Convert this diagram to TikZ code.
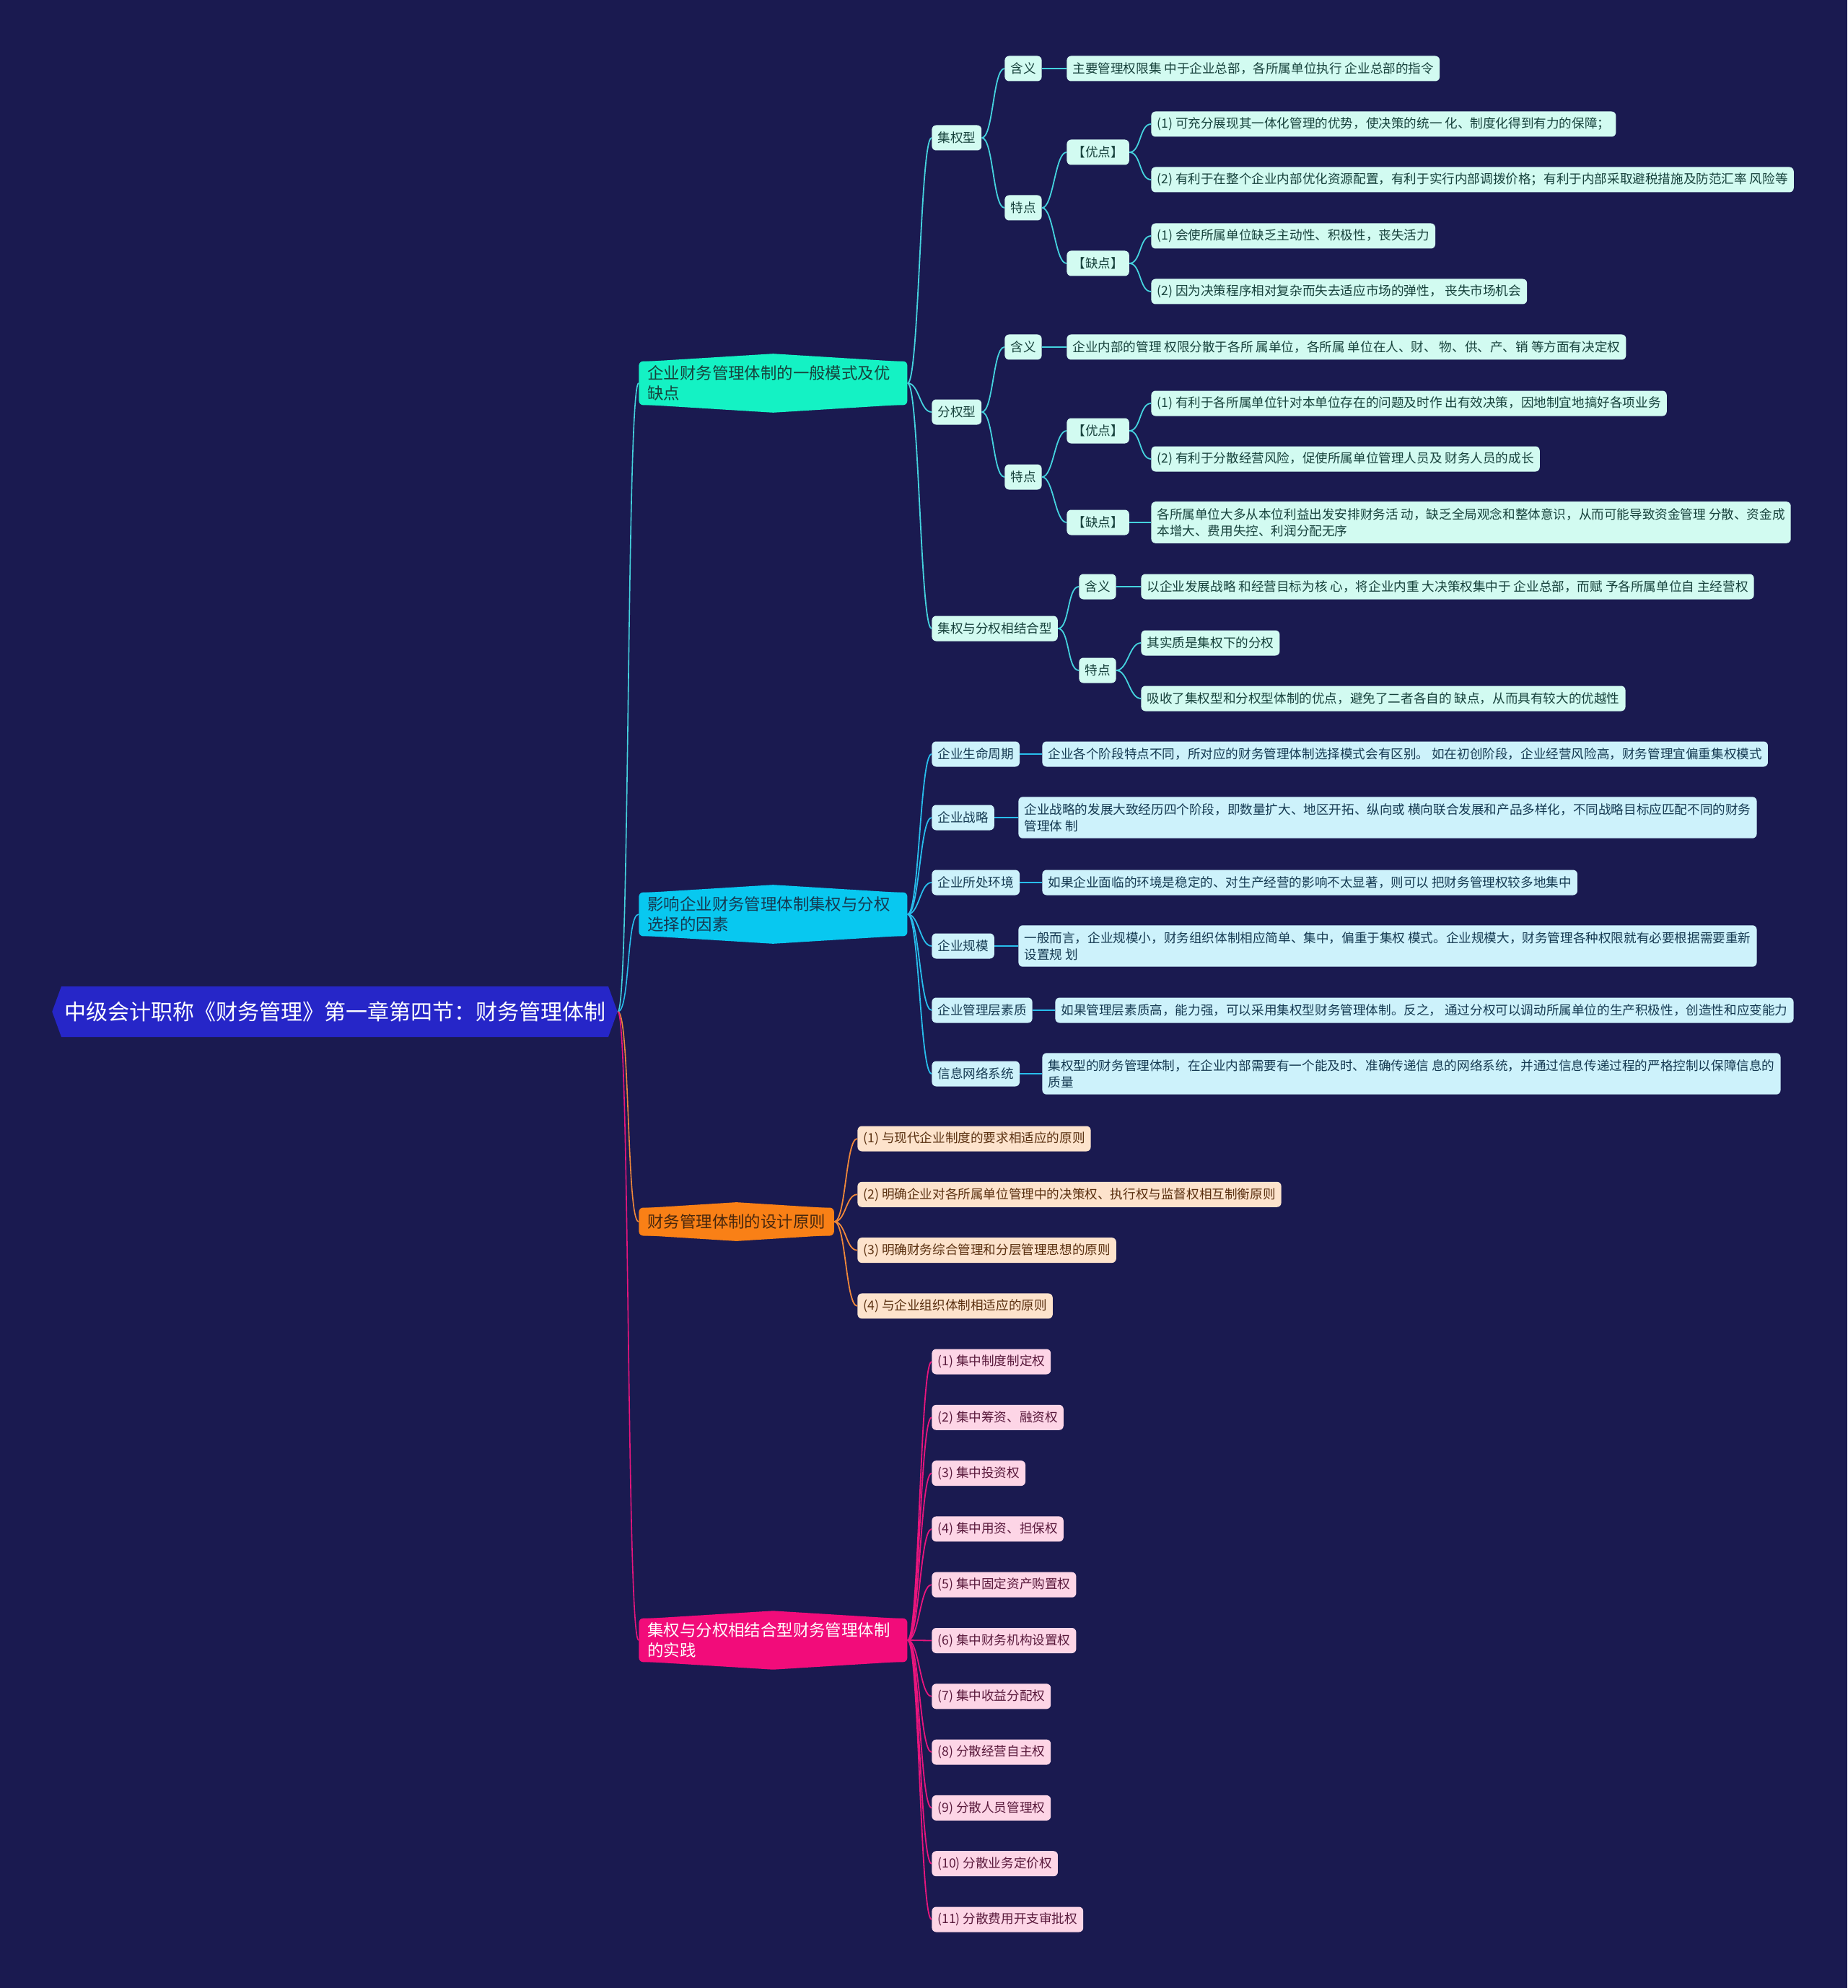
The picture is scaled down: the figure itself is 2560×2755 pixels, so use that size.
\documentclass[tikz,border=0pt]{standalone}
\usepackage{fontspec}
\setmainfont{Noto Sans CJK SC}
\usetikzlibrary{positioning, shapes.symbols}

\definecolor{bgnavy}{HTML}{1A1A50}
\definecolor{rootblue}{HTML}{2626C8}
\definecolor{topA}{HTML}{14F2C4}
\definecolor{topB}{HTML}{08C8F0}
\definecolor{topC}{HTML}{F98016}
\definecolor{topD}{HTML}{F20C7A}
\definecolor{fillA}{HTML}{D2FBF1}
\definecolor{fillB}{HTML}{CDF2FB}
\definecolor{fillC}{HTML}{FDE3CC}
\definecolor{fillD}{HTML}{FDD5E6}
\definecolor{lineA}{HTML}{45D3DE}
\definecolor{lineB}{HTML}{28BEEC}
\definecolor{lineC}{HTML}{F0883A}
\definecolor{lineD}{HTML}{E8157D}
\definecolor{inkA}{HTML}{17423C}
\definecolor{inkB}{HTML}{153A52}
\definecolor{inkC}{HTML}{5A3010}
\definecolor{inkD}{HTML}{5A1A3C}

\tikzset{
  rootbox/.style={signal, signal to=west and east, signal pointer angle=140,
    fill=rootblue, text=white, font=\fontsize{15pt}{18pt}\selectfont,
    minimum height=35pt, inner xsep=2pt},
  topic/.style={rounded corners=3pt, anchor=west, align=left, inner xsep=6pt,
    inner ysep=3pt, minimum height=19.5pt, font=\fontsize{11.2pt}{14pt}\selectfont},
  leaf/.style={rounded corners=3pt, anchor=west, align=left, inner xsep=4pt,
    inner ysep=3pt, minimum height=17.5pt},
  leaf2/.style={inner ysep=4.5pt},
  leafA/.style={leaf, fill=fillA, text=inkA},
  leafB/.style={leaf, fill=fillB, text=inkB},
  leafC/.style={leaf, fill=fillC, text=inkC},
  leafD/.style={leaf, fill=fillD, text=inkD},
  linkA/.style={draw=lineA, line width=0.9pt},
  linkB/.style={draw=lineB, line width=0.9pt},
  linkC/.style={draw=lineC, line width=0.9pt},
  linkD/.style={draw=lineD, line width=0.9pt},
  barA/.style={draw=lineA, line width=1.4pt},
  barB/.style={draw=lineB, line width=1.4pt},
}

\begin{document}
\begin{tikzpicture}[x=0.5pt, y=-0.5pt, font=\fontsize{8.8pt}{11.5pt}\selectfont]
  \fill[bgnavy] (0,0) rectangle (2560,2755);
  \useasboundingbox (0,0) rectangle (2560,2755);

  % root and main topics
  \node[rootbox] (root) at (464,1402) {中级会计职称《财务管理》第一章第四节：财务管理体制};
  \node[topic, text width=174pt, fill=topA, text=inkA] (ta) at (885,531) {企业财务管理体制的一般模式及优\\缺点};
  \node[topic, text width=174pt, fill=topB, text=inkB] (tb) at (885,1267) {影响企业财务管理体制集权与分权\\选择的因素};
  \node[topic, fill=topC, text=inkC!80!black] (tc) at (885,1693) {财务管理体制的设计原则};
  \node[topic, text width=174pt, fill=topD, text=white] (td) at (885,2273) {集权与分权相结合型财务管理体制\\的实践};
  \foreach \n/\col/\pk in {ta/topA/5pt, tb/topB/5pt, tc/topC/3.5pt, td/topD/5pt} {
    \fill[\col] ([xshift=4pt,yshift=-0.5pt]\n.north west) -- ([yshift=\pk]\n.north) -- ([xshift=-4pt,yshift=-0.5pt]\n.north east) -- cycle;
    \fill[\col] ([xshift=4pt,yshift=0.5pt]\n.south west) -- ([yshift=-\pk]\n.south) -- ([xshift=-4pt,yshift=0.5pt]\n.south east) -- cycle;
  }

  % 集权型
  \node[leafA] (a1) at (1291,191) {集权型};
  \node[leafA] (a1m) at (1392,95) {含义};
  \node[leafA] (a1mt) at (1478,95) {主要管理权限集 中于企业总部，各所属单位执行 企业总部的指令};
  \node[leafA] (a1t) at (1392,288) {特点};
  \node[leafA] (a1p) at (1478,211) {【优点】};
  \node[leafA] (a1n) at (1478,365) {【缺点】};
  \node[leafA] (a1p1) at (1595,172) {(1) 可充分展现其一体化管理的优势，使决策的统一 化、制度化得到有力的保障；};
  \node[leafA] (a1p2) at (1595,249) {(2) 有利于在整个企业内部优化资源配置，有利于实行内部调拨价格；有利于内部采取避税措施及防范汇率 风险等};
  \node[leafA] (a1n1) at (1595,327) {(1) 会使所属单位缺乏主动性、积极性，丧失活力};
  \node[leafA] (a1n2) at (1595,404) {(2) 因为决策程序相对复杂而失去适应市场的弹性， 丧失市场机会};

  % 分权型
  \node[leafA] (a2) at (1291,571) {分权型};
  \node[leafA] (a2m) at (1392,481) {含义};
  \node[leafA] (a2mt) at (1478,481) {企业内部的管理 权限分散于各所 属单位，各所属 单位在人、财、 物、供、产、销 等方面有决定权};
  \node[leafA] (a2t) at (1392,661) {特点};
  \node[leafA] (a2p) at (1478,597) {【优点】};
  \node[leafA] (a2n) at (1478,724) {【缺点】};
  \node[leafA] (a2p1) at (1595,559) {(1) 有利于各所属单位针对本单位存在的问题及时作 出有效决策，因地制宜地搞好各项业务};
  \node[leafA] (a2p2) at (1595,636) {(2) 有利于分散经营风险，促使所属单位管理人员及 财务人员的成长};
  \node[leafA, leaf2] (a2n1) at (1595,724) {各所属单位大多从本位利益出发安排财务活 动，缺乏全局观念和整体意识，从而可能导致资金管理 分散、资金成\\本增大、费用失控、利润分配无序};

  % 集权与分权相结合型
  \node[leafA] (a3) at (1291,871) {集权与分权相结合型};
  \node[leafA] (a3m) at (1495,813) {含义};
  \node[leafA] (a3mt) at (1581,813) {以企业发展战略 和经营目标为核 心，将企业内重 大决策权集中于 企业总部，而赋 予各所属单位自 主经营权};
  \node[leafA] (a3t) at (1495,929) {特点};
  \node[leafA] (a3t1) at (1581,891) {其实质是集权下的分权};
  \node[leafA] (a3t2) at (1581,968) {吸收了集权型和分权型体制的优点，避免了二者各自的 缺点，从而具有较大的优越性};

  % 影响因素
  \node[leafB] (b1) at (1291,1045) {企业生命周期};
  \node[leafB] (b1t) at (1444,1045) {企业各个阶段特点不同，所对应的财务管理体制选择模式会有区别。 如在初创阶段，企业经营风险高，财务管理宜偏重集权模式};
  \node[leafB] (b2) at (1291,1133) {企业战略};
  \node[leafB, leaf2] (b2t) at (1411,1133) {企业战略的发展大致经历四个阶段，即数量扩大、地区开拓、纵向或 横向联合发展和产品多样化，不同战略目标应匹配不同的财务\\管理体 制};
  \node[leafB] (b3) at (1291,1223) {企业所处环境};
  \node[leafB] (b3t) at (1444,1223) {如果企业面临的环境是稳定的、对生产经营的影响不太显著，则可以 把财务管理权较多地集中};
  \node[leafB] (b4) at (1291,1311) {企业规模};
  \node[leafB, leaf2] (b4t) at (1411,1311) {一般而言，企业规模小，财务组织体制相应简单、集中，偏重于集权 模式。企业规模大，财务管理各种权限就有必要根据需要重新\\设置规 划};
  \node[leafB] (b5) at (1291,1400) {企业管理层素质};
  \node[leafB] (b5t) at (1462,1400) {如果管理层素质高，能力强，可以采用集权型财务管理体制。反之， 通过分权可以调动所属单位的生产积极性，创造性和应变能力};
  \node[leafB] (b6) at (1291,1488) {信息网络系统};
  \node[leafB, leaf2] (b6t) at (1444,1488) {集权型的财务管理体制，在企业内部需要有一个能及时、准确传递信 息的网络系统，并通过信息传递过程的严格控制以保障信息的\\质量};

  % 设计原则
  \foreach \txt [count=\i] in {{(1) 与现代企业制度的要求相适应的原则},
      {(2) 明确企业对各所属单位管理中的决策权、执行权与监督权相互制衡原则},
      {(3) 明确财务综合管理和分层管理思想的原则},
      {(4) 与企业组织体制相适应的原则}} {
    \node[leafC] (c\i) at (1188,{1578+77.3*(\i-1)}) {\txt};
    \draw[linkC] (tc.east) .. controls +(16,0) and +(-16,0) .. (c\i.west);
  }

  % 实践
  \foreach \txt [count=\i] in {{(1) 集中制度制定权}, {(2) 集中筹资、融资权}, {(3) 集中投资权},
      {(4) 集中用资、担保权}, {(5) 集中固定资产购置权}, {(6) 集中财务机构设置权},
      {(7) 集中收益分配权}, {(8) 分散经营自主权}, {(9) 分散人员管理权},
      {(10) 分散业务定价权}, {(11) 分散费用开支审批权}} {
    \node[leafD] (d\i) at (1291,{1887+77.3*(\i-1)}) {\txt};
    \draw[linkD] (td.east) .. controls +(16,0) and +(-16,0) .. (d\i.west);
  }

  % connectors
  \draw[linkA, line width=0.8pt] (root.east) .. controls +(17,0) and +(-17,0) .. (ta.west);
  \draw[linkB, line width=0.8pt] (root.east) .. controls +(17,0) and +(-17,0) .. (tb.west);
  \draw[linkC, line width=0.8pt] (root.east) .. controls +(17,0) and +(-17,0) .. (tc.west);
  \draw[linkD, line width=0.8pt] (root.east) .. controls +(17,0) and +(-17,0) .. (td.west);
  \foreach \pa/\ch in {ta/a1, ta/a2, ta/a3, a1/a1m, a1/a1t, a1t/a1p, a1t/a1n,
      a1p/a1p1, a1p/a1p2, a1n/a1n1, a1n/a1n2, a2/a2m, a2/a2t, a2t/a2p, a2t/a2n,
      a2p/a2p1, a2p/a2p2, a3/a3m, a3/a3t, a3t/a3t1, a3t/a3t2}
    \draw[linkA] (\pa.east) .. controls +(16,0) and +(-16,0) .. (\ch.west);
  \foreach \pa/\ch in {a1m/a1mt, a2m/a2mt, a2n/a2n1, a3m/a3mt}
    \draw[barA] (\pa.east) -- (\ch.west);
  \foreach \i in {1,...,6} {
    \draw[linkB] (tb.east) .. controls +(16,0) and +(-16,0) .. (b\i.west);
    \draw[barB] (b\i.east) -- (b\i t.west);
  }
\end{tikzpicture}
\end{document}
